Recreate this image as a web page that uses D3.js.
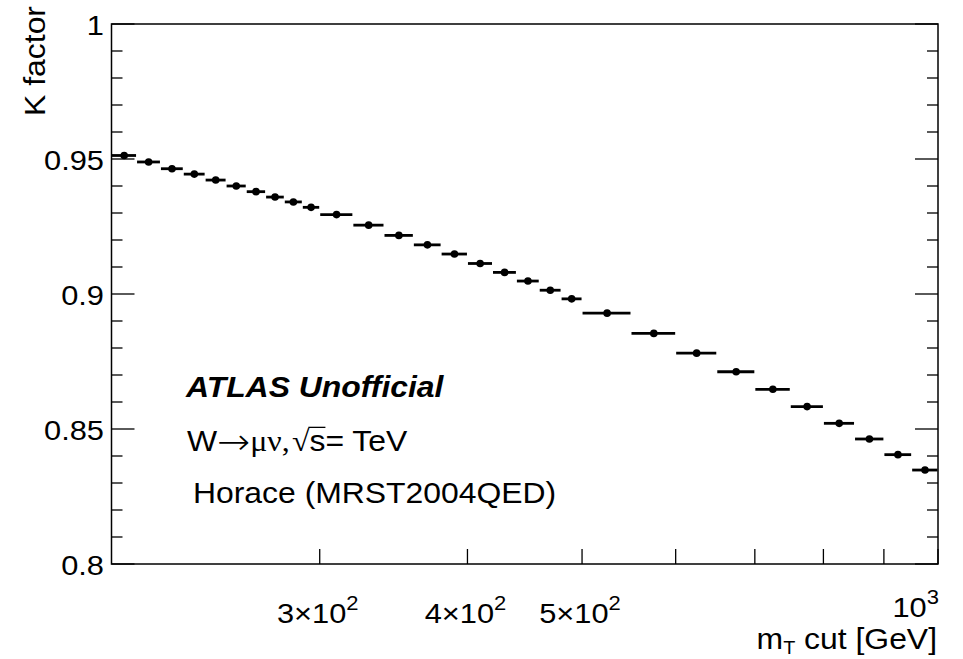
<!DOCTYPE html>
<html><head><meta charset="utf-8">
<script src="https://cdn.jsdelivr.net/npm/d3@7/dist/d3.min.js"></script>
<style>
body{margin:0;background:#fff}
text{font-family:"Liberation Sans",Arial,Helvetica,sans-serif;fill:#000}
</style>
</head><body>
<svg id="c" width="963" height="659"></svg>
<script>
// ---- data ----
const binLow  = [200,210,220,230,240,250,260,270,280,290,
                 300,320,340,360,380,400,420,440,460,480,
                 500,550,600,650,700,750,800,850,900,950];
const binHigh = [210,220,230,240,250,260,270,280,290,300,
                 320,340,360,380,400,420,440,460,480,500,
                 550,600,650,700,750,800,850,900,950,1000];
const kFactor = [0.9513,0.9489,0.9464,0.9444,0.9422,0.9400,0.9379,0.9359,0.9341,0.9321,
                 0.9294,0.9255,0.9217,0.9182,0.9148,0.9113,0.9080,0.9048,0.9014,0.8982,
                 0.8929,0.8854,0.8781,0.8712,0.8647,0.8583,0.8521,0.8463,0.8405,0.8348];
const xTickValues = [300,400,500,600,700,800,900,1000];
const xLabelValues = [300,400,500,1000];
const xLabelMantissa = ["3\u00d710","4\u00d710","5\u00d710","10"];
const xLabelExponent = ["2","2","2","3"];
const yMajorTicks = [0.8,0.85,0.9,0.95,1.0];
const yMajorLabels = ["0.8","0.85","0.9","0.95","1"];
const yMinorTicks = [0.81,0.82,0.83,0.84,0.86,0.87,0.88,0.89,0.91,0.92,0.93,0.94,0.96,0.97,0.98,0.99];

// ---- layout ----
const L = 111.5, R = 938, T = 24, B = 564;
const SX = 1.1; // horizontal text stretch seen in reference
const svg = d3.select("#c");
const x = d3.scaleLog().domain([200,1000]).range([L,R]);
const y = d3.scaleLinear().domain([0.8,1.0]).range([B,T]);

function stretchedText(px, py, anchor, size, weight, style){
  const g = svg.append("g").attr("transform",`translate(${px},${py}) scale(${SX},1)`);
  const t = g.append("text").attr("text-anchor",anchor).attr("font-size",size);
  if(weight) t.attr("font-weight",weight);
  if(style) t.attr("font-style",style);
  return {g,t};
}

// frame
svg.append("rect").attr("x",L).attr("y",T).attr("width",R-L).attr("height",B-T)
  .attr("fill","none").attr("stroke","#000").attr("stroke-width",1.5);

// y ticks (left and right, inward)
const tickG = svg.append("g").attr("stroke","#000").attr("stroke-width",1.3);
yMajorTicks.forEach(v=>{
  tickG.append("line").attr("x1",L).attr("x2",L+23).attr("y1",y(v)).attr("y2",y(v));
  tickG.append("line").attr("x1",R).attr("x2",R-23).attr("y1",y(v)).attr("y2",y(v));
});
yMinorTicks.forEach(v=>{
  tickG.append("line").attr("x1",L).attr("x2",L+11).attr("y1",y(v)).attr("y2",y(v));
  tickG.append("line").attr("x1",R).attr("x2",R-11).attr("y1",y(v)).attr("y2",y(v));
});
// x ticks (bottom, inward)
xTickValues.forEach(v=>{
  tickG.append("line").attr("x1",x(v)).attr("x2",x(v)).attr("y1",B).attr("y2",B-15);
});

// y tick labels
yMajorTicks.forEach((v,i)=>{
  const {t} = stretchedText(104, y(v)+10.5, "end", 28);
  t.text(yMajorLabels[i]);
});

// x tick labels
xLabelValues.forEach((v,i)=>{
  const last = v===1000;
  const {t} = stretchedText(last? x(v)+1 : x(v)-2, last? 617 : 623, last? "end":"middle", 28);
  t.append("tspan").text(xLabelMantissa[i]);
  t.append("tspan").attr("font-size",20).attr("dy",-13).text(xLabelExponent[i]);
});

// axis titles
{
  const g = svg.append("g").attr("transform",`translate(45,6) rotate(-90) scale(${SX},1)`);
  g.append("text").attr("text-anchor","end").attr("font-size",29).text("K factor");
}
{
  const {t} = stretchedText(937, 649, "end", 29);
  t.append("tspan").text("m");
  t.append("tspan").attr("font-size",18).attr("dy",5).text("T");
  t.append("tspan").attr("dy",-5).text(" cut [GeV]");
}

// data: horizontal bin bars + markers
const pts = kFactor.map((k,i)=>({lo:binLow[i],hi:binHigh[i],k}));
svg.append("g").selectAll("line").data(pts).join("line")
  .attr("x1",d=>x(d.lo)+0.5).attr("x2",d=>x(d.hi)-0.5)
  .attr("y1",d=>y(d.k)).attr("y2",d=>y(d.k))
  .attr("stroke","#000").attr("stroke-width",2.8);
svg.append("g").selectAll("circle").data(pts).join("circle")
  .attr("cx",d=>x((d.lo+d.hi)/2)).attr("cy",d=>y(d.k)).attr("r",3.8).attr("fill","#000");

// annotations
{
  const {t} = stretchedText(186, 397, "start", 29, "bold", "italic");
  t.text("ATLAS Unofficial");
}
{
  const {g,t} = stretchedText(187, 451, "start", 29);
  t.append("tspan").text("W");
  t.append("tspan").attr("font-family","DejaVu Sans ExtraLight,DejaVu Sans,sans-serif").attr("font-weight",200)
    .attr("font-size",36).attr("dy",3).text("\u2192");
  t.append("tspan").attr("font-family","Liberation Serif,serif").attr("dy",-3).text("\u03bc\u03bd,");
  t.append("tspan").attr("font-family","Liberation Serif,serif").attr("dx",2).text("\u221a");
  const s = t.append("tspan").text("s");
  t.append("tspan").text("= TeV");
  const bb = s.node().getBBox();
  g.append("line").attr("x1",bb.x-1).attr("x2",bb.x+bb.width).attr("y1",bb.y+3).attr("y2",bb.y+3)
    .attr("stroke","#000").attr("stroke-width",1.3);
}
{
  const {t} = stretchedText(193, 503, "start", 29);
  t.text("Horace (MRST2004QED)");
}
</script>
</body></html>
